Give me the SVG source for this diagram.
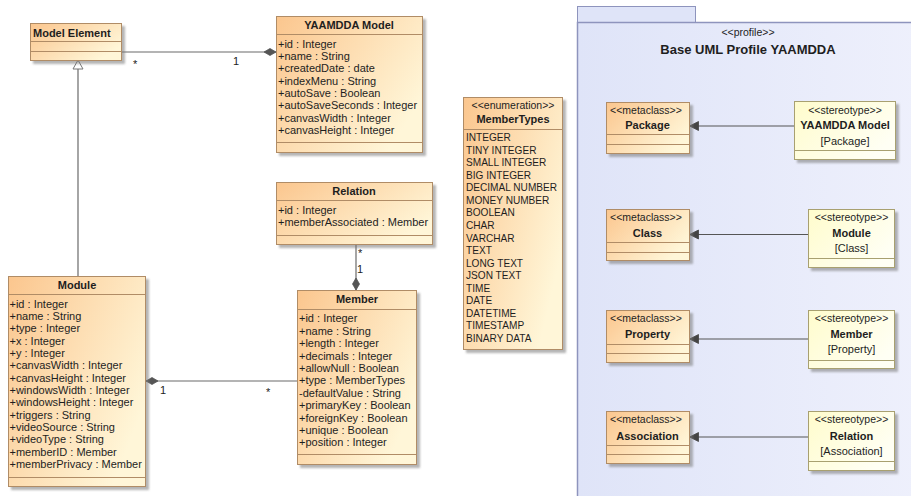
<svg xmlns="http://www.w3.org/2000/svg" width="911" height="496" viewBox="0 0 911 496">
  <defs>
    <linearGradient id="clsFill" x1="0" y1="0" x2="1" y2="0.6">
      <stop offset="0" stop-color="#fbc68e"/>
      <stop offset="1" stop-color="#fff6d8"/>
    </linearGradient>
    <linearGradient id="stFill" x1="0" y1="0" x2="1" y2="0.6">
      <stop offset="0" stop-color="#fffccc"/>
      <stop offset="1" stop-color="#fffff4"/>
    </linearGradient>
    <linearGradient id="pkgFill" x1="0" y1="0" x2="1" y2="0">
      <stop offset="0" stop-color="#dfe4f8"/>
      <stop offset="1" stop-color="#eef0fc"/>
    </linearGradient>
    <filter id="shadow" x="-10%" y="-10%" width="130%" height="130%">
      <feDropShadow dx="3" dy="3" stdDeviation="1" flood-color="#777" flood-opacity="0.55"/>
    </filter>
    <marker id="diamond" markerUnits="userSpaceOnUse" markerWidth="14" markerHeight="10" refX="12" refY="4" orient="auto" overflow="visible">
      <path d="M0,4 L6,0.5 L12,4 L6,7.5 z" fill="#555" stroke="#555" stroke-width="0.8"/>
    </marker>
    <marker id="hollowTri" markerUnits="userSpaceOnUse" markerWidth="12" markerHeight="12" refX="9" refY="5" orient="auto" overflow="visible">
      <path d="M0,0 L9,5 L0,10 z" fill="#fff" stroke="#777" stroke-width="1"/>
    </marker>
    <marker id="solidTri" markerUnits="userSpaceOnUse" markerWidth="12" markerHeight="12" refX="9" refY="5" orient="auto" overflow="visible">
      <path d="M0,0.5 L9,5 L0,9.5 z" fill="#444" stroke="#444" stroke-width="0.8"/>
    </marker>
  </defs>
  <style>
    .box { fill: url(#clsFill); stroke: #b08c66; stroke-width: 1; filter: url(#shadow); }
    .sbox { fill: url(#stFill); stroke: #a8a070; stroke-width: 1; filter: url(#shadow); }
    .div { stroke: #b08c66; stroke-width: 1; fill: none; }
    .sdiv { stroke: #a8a070; stroke-width: 1; fill: none; }
    text { font-family: "Liberation Sans", Arial, sans-serif; fill: #1e1e1e; }
    .name { font-size: 11px; font-weight: bold; }
    .attr { font-size: 11px; }
    .lit { font-size: 10.1px; }
    .ster { font-size: 10.5px; }
    .mult { font-size: 11px; fill: #222; }
    .c { text-anchor: middle; }
    .line { stroke: #6a6a6a; stroke-width: 1.2; fill: none; }
    .ext { stroke: #555; stroke-width: 1.2; fill: none; }
  </style>

  <!-- profile package frame -->
  <g id="profile">
    <rect x="577.5" y="6.5" width="118" height="16" fill="#dfe4f8" stroke="#8e94bd" stroke-width="1"/>
    <rect x="577.5" y="22.5" width="340" height="480" fill="url(#pkgFill)" stroke="#8e94bd" stroke-width="1.5"/>
    <text class="ster c" x="748" y="36">&lt;&lt;profile&gt;&gt;</text>
    <text class="c" x="748" y="54" style="font-size:13px;font-weight:bold">Base UML Profile YAAMDDA</text>
  </g>

  <!-- connectors -->
  <g id="connectors">
    <path class="line" d="M122,52 L276,52" marker-end="url(#diamond)"/>
    <path class="line" d="M78,276 L78,60" marker-end="url(#hollowTri)"/>
    <path class="line" d="M297,381 L146,381" marker-end="url(#diamond)"/>
    <path class="line" d="M356,244 L356,290" marker-end="url(#diamond)"/>
    <path class="ext" d="M794,126 L689.5,126" marker-end="url(#solidTri)"/>
    <path class="ext" d="M808.5,234.5 L689.5,234.5" marker-end="url(#solidTri)"/>
    <path class="ext" d="M808.5,339 L689.5,339" marker-end="url(#solidTri)"/>
    <path class="ext" d="M808.5,437 L689.5,437" marker-end="url(#solidTri)"/>
    <text class="mult" x="133" y="68">*</text>
    <text class="mult" x="233" y="65">1</text>
    <text class="mult" x="160" y="394">1</text>
    <text class="mult" x="266" y="396">*</text>
    <text class="mult" x="358" y="257">*</text>
    <text class="mult" x="357" y="273">1</text>
  </g>

  <g id="model-element">
    <rect class="box" x="30.5" y="23.5" width="91" height="37"/>
    <path class="div" d="M30.5,41.5 H121.5 M30.5,51.5 H121.5"/>
    <text class="name" x="33" y="36.5">Model Element</text>
  </g>

  <g id="yaamdda-model">
    <rect class="box" x="276.5" y="16.5" width="146" height="136"/>
    <path class="div" d="M276.5,34.5 H422.5 M276.5,142.5 H422.5"/>
    <text class="name c" x="349" y="29">YAAMDDA Model</text>
    <text class="attr" x="278" y="47.5">+id : Integer</text>
    <text class="attr" x="278" y="59.8">+name : String</text>
    <text class="attr" x="278" y="72.2">+createdDate : date</text>
    <text class="attr" x="278" y="84.5">+indexMenu : String</text>
    <text class="attr" x="278" y="96.8">+autoSave : Boolean</text>
    <text class="attr" x="278" y="109.2">+autoSaveSeconds : Integer</text>
    <text class="attr" x="278" y="121.5">+canvasWidth : Integer</text>
    <text class="attr" x="278" y="133.8">+canvasHeight : Integer</text>
  </g>

  <g id="relation">
    <rect class="box" x="276.5" y="182.5" width="156" height="62"/>
    <path class="div" d="M276.5,200.5 H432.5 M276.5,235.5 H432.5"/>
    <text class="name c" x="354" y="195">Relation</text>
    <text class="attr" x="278" y="214">+id : Integer</text>
    <text class="attr" x="278" y="226.3">+memberAssociated : Member</text>
  </g>

  <g id="module">
    <rect class="box" x="8.5" y="276.5" width="137" height="210"/>
    <path class="div" d="M8.5,294.5 H145.5 M8.5,477.5 H145.5"/>
    <text class="name c" x="77" y="289">Module</text>
    <text class="attr" x="9.5" y="307.7">+id : Integer</text>
    <text class="attr" x="9.5" y="320">+name : String</text>
    <text class="attr" x="9.5" y="332.3">+type : Integer</text>
    <text class="attr" x="9.5" y="344.7">+x : Integer</text>
    <text class="attr" x="9.5" y="357">+y : Integer</text>
    <text class="attr" x="9.5" y="369.3">+canvasWidth : Integer</text>
    <text class="attr" x="9.5" y="381.7">+canvasHeight : Integer</text>
    <text class="attr" x="9.5" y="394">+windowsWidth : Integer</text>
    <text class="attr" x="9.5" y="406.3">+windowsHeight : Integer</text>
    <text class="attr" x="9.5" y="418.7">+triggers : String</text>
    <text class="attr" x="9.5" y="431">+videoSource : String</text>
    <text class="attr" x="9.5" y="443.3">+videoType : String</text>
    <text class="attr" x="9.5" y="455.7">+memberID : Member</text>
    <text class="attr" x="9.5" y="468">+memberPrivacy : Member</text>
  </g>

  <g id="member">
    <rect class="box" x="297.5" y="290.5" width="119" height="174"/>
    <path class="div" d="M297.5,309.5 H416.5 M297.5,454.5 H416.5"/>
    <text class="name c" x="357" y="303.3">Member</text>
    <text class="attr" x="299" y="322.3">+id : Integer</text>
    <text class="attr" x="299" y="334.7">+name : String</text>
    <text class="attr" x="299" y="347.1">+length : Integer</text>
    <text class="attr" x="299" y="359.5">+decimals : Integer</text>
    <text class="attr" x="299" y="371.9">+allowNull : Boolean</text>
    <text class="attr" x="299" y="384.3">+type : MemberTypes</text>
    <text class="attr" x="299" y="396.7">-defaultValue : String</text>
    <text class="attr" x="299" y="409.1">+primaryKey : Boolean</text>
    <text class="attr" x="299" y="421.5">+foreignKey : Boolean</text>
    <text class="attr" x="299" y="433.9">+unique : Boolean</text>
    <text class="attr" x="299" y="446.3">+position : Integer</text>
  </g>

  <g id="member-types">
    <rect class="box" x="463.5" y="97.5" width="99" height="252"/>
    <path class="div" d="M463.5,129.5 H562.5"/>
    <text class="ster c" x="513" y="108.5">&lt;&lt;enumeration&gt;&gt;</text>
    <text class="name c" x="513" y="123.3">MemberTypes</text>
    <text class="lit" x="466" y="141.3">INTEGER</text>
    <text class="lit" x="466" y="153.8">TINY INTEGER</text>
    <text class="lit" x="466" y="166.3">SMALL INTEGER</text>
    <text class="lit" x="466" y="178.9">BIG INTEGER</text>
    <text class="lit" x="466" y="191.4">DECIMAL NUMBER</text>
    <text class="lit" x="466" y="203.9">MONEY NUMBER</text>
    <text class="lit" x="466" y="216.4">BOOLEAN</text>
    <text class="lit" x="466" y="228.9">CHAR</text>
    <text class="lit" x="466" y="241.5">VARCHAR</text>
    <text class="lit" x="466" y="254">TEXT</text>
    <text class="lit" x="466" y="266.5">LONG TEXT</text>
    <text class="lit" x="466" y="279">JSON TEXT</text>
    <text class="lit" x="466" y="291.5">TIME</text>
    <text class="lit" x="466" y="304">DATE</text>
    <text class="lit" x="466" y="316.6">DATETIME</text>
    <text class="lit" x="466" y="329.1">TIMESTAMP</text>
    <text class="lit" x="466" y="341.6">BINARY DATA</text>
  </g>

  <!-- metaclasses -->
  <g id="mc-package">
    <rect class="box" x="606.5" y="102.5" width="83" height="51"/>
    <path class="div" d="M606.5,134.5 H689.5 M606.5,144.5 H689.5"/>
    <text class="ster c" x="646" y="114">&lt;&lt;metaclass&gt;&gt;</text>
    <text class="name c" x="647.5" y="129">Package</text>
  </g>
  <g id="mc-class">
    <rect class="box" x="606.5" y="209.5" width="83" height="51"/>
    <path class="div" d="M606.5,242.5 H689.5 M606.5,252.5 H689.5"/>
    <text class="ster c" x="646" y="221">&lt;&lt;metaclass&gt;&gt;</text>
    <text class="name c" x="647.5" y="237">Class</text>
  </g>
  <g id="mc-property">
    <rect class="box" x="606.5" y="310.5" width="83" height="52"/>
    <path class="div" d="M606.5,344.5 H689.5 M606.5,353.5 H689.5"/>
    <text class="ster c" x="646" y="322">&lt;&lt;metaclass&gt;&gt;</text>
    <text class="name c" x="647.5" y="338">Property</text>
  </g>
  <g id="mc-association">
    <rect class="box" x="606.5" y="411.5" width="83" height="52"/>
    <path class="div" d="M606.5,445.5 H689.5 M606.5,454.5 H689.5"/>
    <text class="ster c" x="646" y="423">&lt;&lt;metaclass&gt;&gt;</text>
    <text class="name c" x="647.5" y="440">Association</text>
  </g>

  <!-- stereotypes -->
  <g id="st-yaamdda-model">
    <rect class="sbox" x="794.5" y="101.5" width="101" height="58"/>
    <path class="sdiv" d="M794.5,150.5 H895.5"/>
    <text class="ster c" x="845" y="114">&lt;&lt;stereotype&gt;&gt;</text>
    <text class="name c" x="845" y="129">YAAMDDA Model</text>
    <text class="attr c" x="845" y="144.5">[Package]</text>
  </g>
  <g id="st-module">
    <rect class="sbox" x="808.5" y="209.5" width="86" height="58"/>
    <path class="sdiv" d="M808.5,258.5 H894.5"/>
    <text class="ster c" x="851.5" y="221">&lt;&lt;stereotype&gt;&gt;</text>
    <text class="name c" x="851.5" y="237">Module</text>
    <text class="attr c" x="851.5" y="252">[Class]</text>
  </g>
  <g id="st-member">
    <rect class="sbox" x="808.5" y="310.5" width="86" height="58"/>
    <path class="sdiv" d="M808.5,360.5 H894.5"/>
    <text class="ster c" x="851.5" y="322">&lt;&lt;stereotype&gt;&gt;</text>
    <text class="name c" x="851.5" y="338">Member</text>
    <text class="attr c" x="851.5" y="353">[Property]</text>
  </g>
  <g id="st-relation">
    <rect class="sbox" x="808.5" y="411.5" width="86" height="59"/>
    <path class="sdiv" d="M808.5,461.5 H894.5"/>
    <text class="ster c" x="851.5" y="423">&lt;&lt;stereotype&gt;&gt;</text>
    <text class="name c" x="851.5" y="440">Relation</text>
    <text class="attr c" x="851.5" y="455">[Association]</text>
  </g>
</svg>
